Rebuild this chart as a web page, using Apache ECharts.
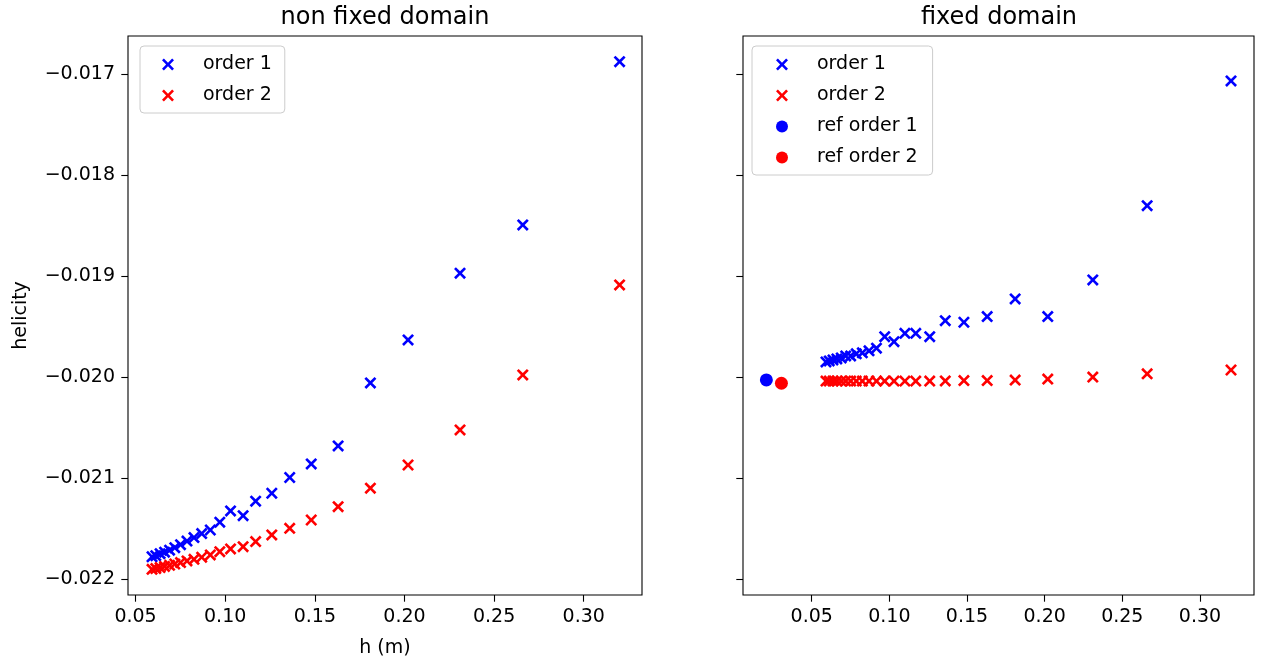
<!DOCTYPE html>
<html>
<head>
<meta charset="utf-8">
<title>helicity</title>
<script src="https://cdn.jsdelivr.net/npm/echarts@6/dist/echarts.min.js"></script>
<style>
  html, body { margin: 0; padding: 0; background: #fff; }
  #chart { width: 1266px; height: 664px; }
</style>
</head>
<body>
<div id="chart"></div>
<script>
// mesh size h (m), shared by every series
const hValues = [0.320, 0.266, 0.231, 0.202, 0.181, 0.163, 0.148, 0.136, 0.126, 0.117, 0.110, 0.103,
  0.097, 0.0917, 0.0869, 0.0826, 0.0787, 0.0751, 0.0719, 0.0690, 0.0662, 0.0637, 0.0613, 0.0592]

// non fixed domain
const order1Free = [-0.016875, -0.018493, -0.018971, -0.019632, -0.020058, -0.020682, -0.020861, -0.020995,
  -0.021151, -0.021230, -0.021373, -0.021326, -0.021438, -0.021515, -0.021550, -0.021590, -0.021625,
  -0.021660, -0.021690, -0.021715, -0.021735, -0.021750, -0.021770, -0.021780]
const order2Free = [-0.019087, -0.019979, -0.020524, -0.020871, -0.021101, -0.021284, -0.021416, -0.021498,
  -0.021564, -0.021630, -0.021680, -0.021703, -0.021730, -0.021762, -0.021785, -0.021805, -0.021822,
  -0.021838, -0.021852, -0.021865, -0.021876, -0.021887, -0.021897, -0.021905]

// fixed domain
const order1Fixed = [-0.017066, -0.018302, -0.019038, -0.019401, -0.019226, -0.019401, -0.019457, -0.019441,
  -0.019600, -0.019566, -0.019566, -0.019649, -0.019600, -0.019714, -0.019740, -0.019760, -0.019770,
  -0.019790, -0.019790, -0.019810, -0.019820, -0.019830, -0.019840, -0.019850]
const order2Fixed = [-0.019930, -0.019968, -0.020000, -0.020020, -0.020030, -0.020035, -0.020035, -0.020038,
  -0.020040, -0.020040, -0.020040, -0.020040, -0.020040, -0.020040, -0.020040, -0.020040, -0.020040,
  -0.020040, -0.020040, -0.020040, -0.020040, -0.020040, -0.020040, -0.020040]

// reference values
const refH = [0.0208, 0.0305]
const refOrder1 = [-0.020028]
const refOrder2 = [-0.020061]

const xTicks = [0.05, 0.10, 0.15, 0.20, 0.25, 0.30]
const yTicks = [-0.022, -0.021, -0.020, -0.019, -0.018, -0.017]

const FONT = 'DejaVu Sans'
const CROSS = 'path://M0,1.55L1.55,0L5,3.45L8.45,0L10,1.55L6.55,5L10,8.45L8.45,10L5,6.55L1.55,10L0,8.45L3.45,5Z'
const BLUE = '#0000ff'
const RED = '#ff0000'

const pairs = (xs, ys) => ys.map((y, i) => [xs[i], y])
const fmtY = v => (v < 0 ? '\u2212' : '') + Math.abs(v).toFixed(3)

const text = { fontFamily: FONT, fontSize: 19, color: '#000' }

function xAxis(idx, min, max, withName) {
  return {
    type: 'value',
    gridIndex: idx,
    min: min,
    max: max,
    axisLine: { show: false },
    splitLine: { show: false },
    axisTick: { show: true, length: 6.7, customValues: xTicks, lineStyle: { color: '#000', width: 1.1 } },
    axisLabel: { customValues: xTicks, formatter: v => v.toFixed(2), margin: 13, ...text },
    name: withName ? 'h (m)' : '',
    nameLocation: 'middle',
    nameGap: 44,
    nameTextStyle: text
  }
}

function yAxis(idx, withLabels) {
  return {
    type: 'value',
    gridIndex: idx,
    min: -0.022159,
    max: -0.016621,
    axisLine: { show: false },
    splitLine: { show: false },
    axisTick: { show: true, length: 6.7, customValues: yTicks, lineStyle: { color: '#000', width: 1.1 } },
    axisLabel: { show: withLabels, customValues: yTicks, formatter: fmtY, margin: 13, ...text },
    name: withLabels ? 'helicity' : '',
    nameLocation: 'middle',
    nameGap: 97,
    nameTextStyle: text
  }
}

function legend(left, names, padding) {
  return {
    orient: 'vertical',
    left: left,
    top: 46,
    data: names,
    selectedMode: false,
    itemWidth: 12,
    itemHeight: 12,
    itemGap: 12,
    padding: padding,
    backgroundColor: 'rgba(255,255,255,0.8)',
    borderColor: '#cccccc',
    borderWidth: 1,
    borderRadius: 4,
    textStyle: { ...text, padding: [0, 0, 0, 24] }
  }
}

function scatter(name, idx, xs, ys, color, symbol, size) {
  return {
    name: name,
    type: 'scatter',
    xAxisIndex: idx,
    yAxisIndex: idx,
    symbol: symbol,
    symbolSize: size,
    itemStyle: { color: color, opacity: 1 },
    data: pairs(xs, ys)
  }
}

const chart = echarts.init(document.getElementById('chart'))
chart.setOption({
  animation: false,
  backgroundColor: '#fff',
  title: [
    { text: 'non fixed domain', left: 385, top: 6, padding: 0, textAlign: 'center',
      textStyle: { fontFamily: FONT, fontSize: 24, fontWeight: 'normal', color: '#000' } },
    { text: 'fixed domain', left: 999, top: 6, padding: 0, textAlign: 'center',
      textStyle: { fontFamily: FONT, fontSize: 24, fontWeight: 'normal', color: '#000' } }
  ],
  grid: [
    { left: 128, top: 36, width: 514, height: 559, show: true, borderColor: '#000', borderWidth: 1.1 },
    { left: 743, top: 36, width: 511, height: 559, show: true, borderColor: '#000', borderWidth: 1.1 }
  ],
  xAxis: [xAxis(0, 0.0458, 0.3325, true), xAxis(1, 0.00576, 0.3348, false)],
  yAxis: [yAxis(0, true), yAxis(1, false)],
  legend: [
    legend(140, ['order 1', 'order 2'], [9, 13, 8, 22]),
    legend(752, ['order 1', 'order 2', 'ref order 1', 'ref order 2'], [9, 15, 8, 24])
  ],
  series: [
    scatter('order 1', 0, hValues, order1Free, BLUE, CROSS, 12),
    scatter('order 2', 0, hValues, order2Free, RED, CROSS, 12),
    scatter('order 1', 1, hValues, order1Fixed, BLUE, CROSS, 12),
    scatter('order 2', 1, hValues, order2Fixed, RED, CROSS, 12),
    scatter('ref order 1', 1, refH.slice(0, 1), refOrder1, BLUE, 'circle', 13),
    scatter('ref order 2', 1, refH.slice(1, 2), refOrder2, RED, 'circle', 13)
  ]
})
</script>
</body>
</html>
